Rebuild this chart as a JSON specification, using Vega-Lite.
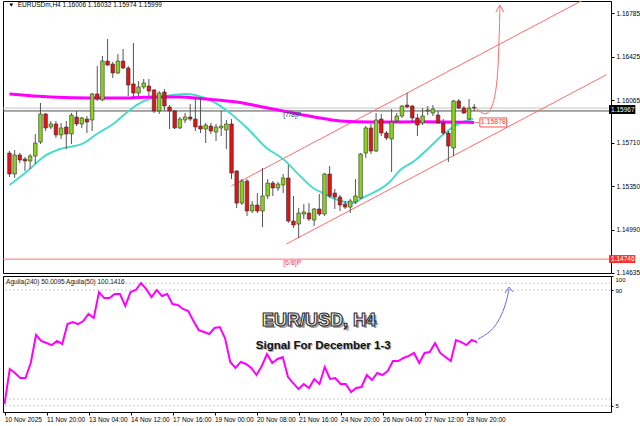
{
"$schema": "https://vega.github.io/schema/vega-lite/v6.json",
"background": "white",
"padding": 0,
"spacing": 3,
"bounds": "flush",
"config": {
  "view": {"stroke": "#000000", "strokeWidth": 1},
  "axis": {"labelFont": "Liberation Sans", "labelFontSize": 6.5, "labelColor": "#000000", "tickColor": "#000000", "domain": false, "grid": false, "tickSize": 3, "labelPadding": 2},
  "text": {"font": "Liberation Sans"}
},
"datasets": {
  "candles": [
{"i":0,"o":1.15626,"h":1.15643,"l":1.15427,"c":1.15452},
{"i":1,"o":1.15452,"h":1.15651,"l":1.15419,"c":1.1561},
{"i":2,"o":1.1561,"h":1.15626,"l":1.15543,"c":1.15568},
{"i":3,"o":1.15576,"h":1.15593,"l":1.15477,"c":1.1556},
{"i":4,"o":1.1556,"h":1.15618,"l":1.15493,"c":1.15601},
{"i":5,"o":1.15601,"h":1.15784,"l":1.15535,"c":1.15709},
{"i":6,"o":1.15717,"h":1.16041,"l":1.15701,"c":1.1595},
{"i":7,"o":1.1595,"h":1.15958,"l":1.15809,"c":1.15834},
{"i":8,"o":1.15842,"h":1.15892,"l":1.15825,"c":1.15867},
{"i":9,"o":1.15867,"h":1.15892,"l":1.15751,"c":1.15776},
{"i":10,"o":1.15776,"h":1.15875,"l":1.15742,"c":1.15834},
{"i":11,"o":1.15842,"h":1.15892,"l":1.15659,"c":1.15784},
{"i":12,"o":1.15784,"h":1.15958,"l":1.15701,"c":1.15941},
{"i":13,"o":1.15925,"h":1.15975,"l":1.1585,"c":1.15867},
{"i":14,"o":1.15867,"h":1.15925,"l":1.15834,"c":1.15917},
{"i":15,"o":1.15908,"h":1.15933,"l":1.15792,"c":1.15883},
{"i":16,"o":1.159,"h":1.16124,"l":1.15809,"c":1.16116},
{"i":17,"o":1.16116,"h":1.16348,"l":1.16058,"c":1.16074},
{"i":18,"o":1.16066,"h":1.16431,"l":1.16058,"c":1.16389},
{"i":19,"o":1.16389,"h":1.16572,"l":1.16348,"c":1.16356},
{"i":20,"o":1.16364,"h":1.16381,"l":1.16248,"c":1.1629},
{"i":21,"o":1.1629,"h":1.16447,"l":1.16281,"c":1.16389},
{"i":22,"o":1.16389,"h":1.16489,"l":1.16323,"c":1.16331},
{"i":23,"o":1.16331,"h":1.16348,"l":1.16099,"c":1.1619},
{"i":24,"o":1.16199,"h":1.16539,"l":1.16074,"c":1.16124},
{"i":25,"o":1.16124,"h":1.16223,"l":1.16099,"c":1.16174},
{"i":26,"o":1.16174,"h":1.1624,"l":1.16157,"c":1.16207},
{"i":27,"o":1.16182,"h":1.1624,"l":1.16099,"c":1.1614},
{"i":28,"o":1.16149,"h":1.16157,"l":1.15958,"c":1.15975},
{"i":29,"o":1.15975,"h":1.1614,"l":1.1595,"c":1.16124},
{"i":30,"o":1.16132,"h":1.16157,"l":1.15975,"c":1.16016},
{"i":31,"o":1.16008,"h":1.16024,"l":1.15825,"c":1.15975},
{"i":32,"o":1.15975,"h":1.15983,"l":1.15825,"c":1.15834},
{"i":33,"o":1.15834,"h":1.15925,"l":1.15825,"c":1.15908},
{"i":34,"o":1.159,"h":1.15958,"l":1.15875,"c":1.15925},
{"i":35,"o":1.15925,"h":1.16033,"l":1.15892,"c":1.15908},
{"i":36,"o":1.15908,"h":1.16091,"l":1.15809,"c":1.15842},
{"i":37,"o":1.1585,"h":1.16091,"l":1.15792,"c":1.15825},
{"i":38,"o":1.15825,"h":1.15875,"l":1.15709,"c":1.15858},
{"i":39,"o":1.1585,"h":1.15875,"l":1.15784,"c":1.15809},
{"i":40,"o":1.158,"h":1.15867,"l":1.15726,"c":1.15842},
{"i":41,"o":1.15834,"h":1.15975,"l":1.15767,"c":1.1585},
{"i":42,"o":1.15817,"h":1.159,"l":1.15659,"c":1.15867},
{"i":43,"o":1.15867,"h":1.15908,"l":1.1541,"c":1.1546},
{"i":44,"o":1.15477,"h":1.15485,"l":1.1517,"c":1.15211},
{"i":45,"o":1.15211,"h":1.1541,"l":1.15195,"c":1.15394},
{"i":46,"o":1.15394,"h":1.1541,"l":1.15104,"c":1.15145},
{"i":47,"o":1.15145,"h":1.15228,"l":1.15128,"c":1.15195},
{"i":48,"o":1.15195,"h":1.15294,"l":1.15128,"c":1.15145},
{"i":49,"o":1.15145,"h":1.15502,"l":1.15012,"c":1.1527},
{"i":50,"o":1.1527,"h":1.1541,"l":1.15245,"c":1.15377},
{"i":51,"o":1.15377,"h":1.15394,"l":1.1527,"c":1.15336},
{"i":52,"o":1.15336,"h":1.15386,"l":1.15311,"c":1.15369},
{"i":53,"o":1.15361,"h":1.15452,"l":1.15294,"c":1.15419},
{"i":54,"o":1.15419,"h":1.15527,"l":1.15046,"c":1.15062},
{"i":55,"o":1.15062,"h":1.1527,"l":1.15004,"c":1.15029},
{"i":56,"o":1.15037,"h":1.1517,"l":1.14921,"c":1.15128},
{"i":57,"o":1.1512,"h":1.15203,"l":1.15079,"c":1.15137},
{"i":58,"o":1.15128,"h":1.15211,"l":1.15062,"c":1.15079},
{"i":59,"o":1.1507,"h":1.1517,"l":1.15021,"c":1.15162},
{"i":60,"o":1.15162,"h":1.15286,"l":1.15104,"c":1.1512},
{"i":61,"o":1.1512,"h":1.1546,"l":1.15104,"c":1.15452},
{"i":62,"o":1.15452,"h":1.15518,"l":1.15253,"c":1.1527},
{"i":63,"o":1.15294,"h":1.15328,"l":1.15162,"c":1.15261},
{"i":64,"o":1.15261,"h":1.15278,"l":1.15145,"c":1.15195},
{"i":65,"o":1.15203,"h":1.15228,"l":1.15162,"c":1.15178},
{"i":66,"o":1.15178,"h":1.15245,"l":1.15128,"c":1.15228},
{"i":67,"o":1.1522,"h":1.1541,"l":1.15203,"c":1.1527},
{"i":68,"o":1.15253,"h":1.15626,"l":1.15245,"c":1.15618},
{"i":69,"o":1.15626,"h":1.1585,"l":1.15585,"c":1.15834},
{"i":70,"o":1.15834,"h":1.15867,"l":1.15618,"c":1.15643},
{"i":71,"o":1.15643,"h":1.15958,"l":1.15635,"c":1.159},
{"i":72,"o":1.15908,"h":1.1595,"l":1.15767,"c":1.15792},
{"i":73,"o":1.15792,"h":1.15809,"l":1.15734,"c":1.15751},
{"i":74,"o":1.15742,"h":1.15991,"l":1.15469,"c":1.15883},
{"i":75,"o":1.15892,"h":1.15958,"l":1.15875,"c":1.15933},
{"i":76,"o":1.15933,"h":1.16024,"l":1.15917,"c":1.16016},
{"i":77,"o":1.16024,"h":1.16124,"l":1.15999,"c":1.16008},
{"i":78,"o":1.16016,"h":1.16024,"l":1.15875,"c":1.15917},
{"i":79,"o":1.15917,"h":1.1595,"l":1.15767,"c":1.15858},
{"i":80,"o":1.15875,"h":1.15999,"l":1.15858,"c":1.15933},
{"i":81,"o":1.15975,"h":1.16016,"l":1.15941,"c":1.15983},
{"i":82,"o":1.15958,"h":1.16024,"l":1.15933,"c":1.15991},
{"i":83,"o":1.15941,"h":1.15975,"l":1.15867,"c":1.15875},
{"i":84,"o":1.15875,"h":1.15908,"l":1.15776,"c":1.15792},
{"i":85,"o":1.15792,"h":1.15809,"l":1.15552,"c":1.15684},
{"i":86,"o":1.15668,"h":1.16066,"l":1.15601,"c":1.16058},
{"i":87,"o":1.16058,"h":1.16074,"l":1.15991,"c":1.15999},
{"i":88,"o":1.15999,"h":1.16016,"l":1.1595,"c":1.15958},
{"i":89,"o":1.15908,"h":1.16074,"l":1.159,"c":1.15999},
{"i":90,"o":1.16006,"h":1.16032,"l":1.15974,"c":1.15999}
  ],
  "ma240": [
{"i":0,"p":1.16116},{"i":8,"p":1.16091},{"i":16,"p":1.16082},{"i":22,"p":1.16082},{"i":28,"p":1.16091},{"i":33,"p":1.16091},{"i":38,"p":1.16074},{"i":44,"p":1.16049},{"i":49,"p":1.16008},{"i":54,"p":1.15966},{"i":59,"p":1.15925},{"i":64,"p":1.15892},{"i":70,"p":1.15883},{"i":80,"p":1.15885},{"i":90,"p":1.1588}
  ],
  "ma50": [
{"i":0,"p":1.15361},{"i":3.5,"p":1.15477},{"i":6.8,"p":1.15601},{"i":9.8,"p":1.15659},{"i":14.4,"p":1.15709},{"i":16.9,"p":1.15784},{"i":20.1,"p":1.15867},{"i":22.6,"p":1.15958},{"i":25,"p":1.16033},{"i":27.7,"p":1.16082},{"i":30.2,"p":1.16099},{"i":34,"p":1.16116},{"i":38.4,"p":1.16074},{"i":42.2,"p":1.15975},{"i":46,"p":1.15834},{"i":49.8,"p":1.15668},{"i":53,"p":1.15576},{"i":56.3,"p":1.15435},{"i":58.8,"p":1.15336},{"i":60.7,"p":1.15294},{"i":63.1,"p":1.15245},{"i":66.4,"p":1.15211},{"i":68.3,"p":1.15253},{"i":73.4,"p":1.15377},{"i":75.9,"p":1.15493},{"i":78.4,"p":1.1556},{"i":81,"p":1.15659},{"i":84.1,"p":1.15784},{"i":87.3,"p":1.15875},{"i":89.8,"p":1.15908}
  ],
  "channel": [
{"s":"upper","i":42.95,"p":1.15352},{"s":"upper","i":115.6,"p":1.16998},
{"s":"lower","i":53.6,"p":1.14871},{"s":"lower","i":115.6,"p":1.16275},
{"s":"tail","i":90.2,"p":1.1588},{"s":"tail","i":91.1,"p":1.1588}
  ],
  "osc": [
{"i":0,"v":6.3},{"i":1,"v":32.0},{"i":2,"v":29.1},{"i":3,"v":25.4},{"i":4,"v":25.4},{"i":5,"v":36.4},{"i":6,"v":57.0},{"i":7,"v":52.6},{"i":8,"v":51.1},{"i":9,"v":49.6},
{"i":10,"v":52.6},{"i":11,"v":50.4},{"i":12,"v":65.0},{"i":13,"v":66.5},{"i":14,"v":65.0},{"i":15,"v":67.2},{"i":16,"v":72.4},{"i":17,"v":69.4},{"i":18,"v":88.5},{"i":19,"v":84.1},
{"i":20,"v":84.1},{"i":21,"v":87.1},{"i":22,"v":87.1},{"i":23,"v":78.3},{"i":24,"v":88.5},{"i":25,"v":90.0},{"i":26,"v":95.1},{"i":27,"v":90.7},{"i":28,"v":84.9},{"i":29,"v":90.0},
{"i":30,"v":85.6},{"i":31,"v":87.1},{"i":32,"v":79.7},{"i":33,"v":79.0},{"i":34,"v":76.1},{"i":35,"v":74.6},{"i":36,"v":67.2},{"i":37,"v":60.6},{"i":38,"v":59.2},{"i":39,"v":57.7},
{"i":40,"v":62.1},{"i":41,"v":62.8},{"i":42,"v":54.8},{"i":43,"v":37.2},{"i":44,"v":32.8},{"i":45,"v":37.2},{"i":46,"v":35.7},{"i":47,"v":32.8},{"i":48,"v":27.6},{"i":49,"v":34.2},
{"i":50,"v":43.0},{"i":51,"v":36.4},{"i":52,"v":39.4},{"i":53,"v":40.8},{"i":54,"v":26.1},{"i":55,"v":21.7},{"i":56,"v":17.3},{"i":57,"v":21.0},{"i":58,"v":18.1},{"i":59,"v":24.7},
{"i":60,"v":21.0},{"i":61,"v":33.5},{"i":62,"v":24.7},{"i":63,"v":25.4},{"i":64,"v":21.0},{"i":65,"v":21.0},{"i":66,"v":15.1},{"i":67,"v":18.1},{"i":68,"v":18.8},{"i":69,"v":27.6},
{"i":70,"v":23.9},{"i":71,"v":29.1},{"i":72,"v":27.6},{"i":73,"v":30.6},{"i":74,"v":37.9},{"i":75,"v":37.9},{"i":76,"v":40.1},{"i":77,"v":41.6},{"i":78,"v":43.8},{"i":79,"v":36.4},
{"i":80,"v":43.8},{"i":81,"v":44.5},{"i":82,"v":51.1},{"i":83,"v":43.8},{"i":84,"v":40.8},{"i":85,"v":37.9},{"i":86,"v":53.3},{"i":87,"v":51.8},{"i":88,"v":49.6},{"i":89,"v":53.3},{"i":90,"v":51.8}
  ]
},
"vconcat": [
{
  "width": 608,
  "height": 272,
  "layer": [
    {"data": {"values": [{"p": 1.15999}]}, "mark": {"type": "rule", "stroke": "#c4c4c4", "strokeWidth": 1},
     "encoding": {"y": {"field": "p", "type": "quantitative", "title": null, "scale": {"domain": [1.14631, 1.16887], "nice": false, "zero": false},
       "axis": {"orient": "right", "values": [1.16785,1.16605,1.16425,1.16245,1.16065,1.1589,1.1571,1.1553,1.1535,1.1517,1.1499,1.14815,1.14635], "format": ".5f", "labelOverlap": false, "labelFlush": false, "title": null}}}},
    {"data": {"values": [{"p": 1.15975}]}, "mark": {"type": "rule", "stroke": "#505050", "strokeWidth": 1},
     "encoding": {"y": {"field": "p", "type": "quantitative", "title": null, "scale": {"domain": [1.14631, 1.16887], "nice": false, "zero": false}}}},
    {"data": {"values": [{"p": 1.14746}]}, "mark": {"type": "rule", "stroke": "#ff7070", "strokeWidth": 1},
     "encoding": {"y": {"field": "p", "type": "quantitative", "title": null, "scale": {"domain": [1.14631, 1.16887], "nice": false, "zero": false}}}},
    {"data": {"name": "channel"}, "mark": {"type": "line", "stroke": "#ff6b6b", "strokeWidth": 1, "clip": true},
     "encoding": {"x": {"field": "i", "type": "quantitative", "title": null, "scale": {"domain": [-0.286, 115.52], "nice": false, "zero": false}, "axis": null},
       "y": {"field": "p", "type": "quantitative", "title": null, "scale": {"domain": [1.14631, 1.16887], "nice": false, "zero": false}},
       "detail": {"field": "s", "type": "nominal"}}},
    {"data": {"name": "ma50"}, "mark": {"type": "line", "stroke": "#48dccb", "strokeWidth": 2, "interpolate": "monotone"},
     "encoding": {"x": {"field": "i", "type": "quantitative", "title": null, "scale": {"domain": [-0.286, 115.52], "nice": false, "zero": false}},
       "y": {"field": "p", "type": "quantitative", "title": null, "scale": {"domain": [1.14631, 1.16887], "nice": false, "zero": false}}}},
    {"data": {"name": "ma240"}, "mark": {"type": "line", "stroke": "#ff00ff", "strokeWidth": 3, "interpolate": "monotone"},
     "encoding": {"x": {"field": "i", "type": "quantitative", "title": null, "scale": {"domain": [-0.286, 115.52], "nice": false, "zero": false}},
       "y": {"field": "p", "type": "quantitative", "title": null, "scale": {"domain": [1.14631, 1.16887], "nice": false, "zero": false}}}},
    {"data": {"name": "candles"}, "mark": {"type": "rule", "stroke": "#555555", "strokeWidth": 1},
     "encoding": {"x": {"field": "i", "type": "quantitative", "title": null, "scale": {"domain": [-0.286, 115.52], "nice": false, "zero": false}},
       "y": {"field": "l", "type": "quantitative", "title": null, "scale": {"domain": [1.14631, 1.16887], "nice": false, "zero": false}},
       "y2": {"field": "h"}}},
    {"data": {"name": "candles"}, "mark": {"type": "bar", "orient": "vertical", "size": 3.6, "stroke": "#333333", "strokeWidth": 0.6},
     "encoding": {"x": {"field": "i", "type": "quantitative", "title": null, "scale": {"domain": [-0.286, 115.52], "nice": false, "zero": false}},
       "y": {"field": "o", "type": "quantitative", "title": null, "scale": {"domain": [1.14631, 1.16887], "nice": false, "zero": false}},
       "y2": {"field": "c"},
       "fill": {"condition": {"test": "datum.c >= datum.o", "value": "#8ad21e"}, "value": "#e01414"}}},
    {"data": {"values": [{"i":90.2,"p":1.16008},{"i":91.14,"p":1.15966},{"i":92.3,"p":1.15941},{"i":93.24,"p":1.15983},{"i":94.0,"p":1.16082},{"i":94.57,"p":1.16265},{"i":94.76,"p":1.16514},{"i":94.93,"p":1.16721},{"i":94.97,"p":1.16845}]},
     "mark": {"type": "line", "stroke": "#ff6b6b", "strokeWidth": 1, "interpolate": "basis"},
     "encoding": {"x": {"field": "i", "type": "quantitative", "title": null, "scale": {"domain": [-0.286, 115.52], "nice": false, "zero": false}},
       "y": {"field": "p", "type": "quantitative", "title": null, "scale": {"domain": [1.14631, 1.16887], "nice": false, "zero": false}}, "order": {"field": "i"}}},
    {"data": {"values": [{"k":1,"i":94.19,"p":1.16796},{"k":2,"i":94.97,"p":1.16854},{"k":3,"i":95.71,"p":1.16796}]},
     "mark": {"type": "line", "stroke": "#ff6b6b", "strokeWidth": 1},
     "encoding": {"x": {"field": "i", "type": "quantitative", "title": null, "scale": {"domain": [-0.286, 115.52], "nice": false, "zero": false}},
       "y": {"field": "p", "type": "quantitative", "title": null, "scale": {"domain": [1.14631, 1.16887], "nice": false, "zero": false}}, "order": {"field": "k"}}},
    {"data": {"values": [{"i":91.1,"i2":96.3,"p":1.15842,"p2":1.15917}]},
     "mark": {"type": "rect", "fill": "#ffffff", "stroke": "#ff5050", "strokeWidth": 1},
     "encoding": {"x": {"field": "i", "type": "quantitative", "title": null, "scale": {"domain": [-0.286, 115.52], "nice": false, "zero": false}}, "x2": {"field": "i2"},
       "y": {"field": "p", "type": "quantitative", "title": null, "scale": {"domain": [1.14631, 1.16887], "nice": false, "zero": false}}, "y2": {"field": "p2"}}},
    {"data": {"values": [{"i":93.7,"p":1.1588,"t":"1.15878"}]},
     "mark": {"type": "text", "fontSize": 7, "color": "#ff3030", "align": "center", "baseline": "middle"},
     "encoding": {"x": {"field": "i", "type": "quantitative", "title": null, "scale": {"domain": [-0.286, 115.52], "nice": false, "zero": false}},
       "y": {"field": "p", "type": "quantitative", "title": null, "scale": {"domain": [1.14631, 1.16887], "nice": false, "zero": false}}, "text": {"field": "t"}}},
    {"data": {"values": [{"i":53.0,"p":1.15941,"t":"[7/8]P"}]},
     "mark": {"type": "text", "fontSize": 7, "color": "#444444", "align": "left", "baseline": "middle"},
     "encoding": {"x": {"field": "i", "type": "quantitative", "title": null, "scale": {"domain": [-0.286, 115.52], "nice": false, "zero": false}},
       "y": {"field": "p", "type": "quantitative", "title": null, "scale": {"domain": [1.14631, 1.16887], "nice": false, "zero": false}}, "text": {"field": "t"}}},
    {"data": {"values": [{"i":53.0,"p":1.14714,"t":"[6/8]P"}]},
     "mark": {"type": "text", "fontSize": 7, "color": "#ff4040", "align": "left", "baseline": "middle"},
     "encoding": {"x": {"field": "i", "type": "quantitative", "title": null, "scale": {"domain": [-0.286, 115.52], "nice": false, "zero": false}},
       "y": {"field": "p", "type": "quantitative", "title": null, "scale": {"domain": [1.14631, 1.16887], "nice": false, "zero": false}}, "text": {"field": "t"}}},
    {"data": {"values": [{"i":1.6,"p":1.1685,"t":"EURUSDm,H4  1.16006 1.16032 1.15974 1.15999"}]},
     "mark": {"type": "text", "fontSize": 6.5, "color": "#000000", "align": "left", "baseline": "middle"},
     "encoding": {"x": {"field": "i", "type": "quantitative", "title": null, "scale": {"domain": [-0.286, 115.52], "nice": false, "zero": false}},
       "y": {"field": "p", "type": "quantitative", "title": null, "scale": {"domain": [1.14631, 1.16887], "nice": false, "zero": false}}, "text": {"field": "t"}}},
    {"data": {"values": [{"i":0.35,"p":1.16852}]},
     "mark": {"type": "point", "shape": "triangle-down", "size": 14, "filled": true, "color": "#000000", "opacity": 1},
     "encoding": {"x": {"field": "i", "type": "quantitative", "title": null, "scale": {"domain": [-0.286, 115.52], "nice": false, "zero": false}},
       "y": {"field": "p", "type": "quantitative", "title": null, "scale": {"domain": [1.14631, 1.16887], "nice": false, "zero": false}}}},
    {"data": {"values": [{"t":"1.15967","i":116.1,"i2":121.2,"p":1.1595,"p2":1.16024},{"t":"1.14746","i":116.1,"i2":121.2,"p":1.14714,"p2":1.1478}]},
     "mark": {"type": "rect", "strokeWidth": 0},
     "encoding": {"x": {"field": "i", "type": "quantitative", "title": null, "scale": {"domain": [-0.286, 115.52], "nice": false, "zero": false}}, "x2": {"field": "i2"},
       "y": {"field": "p", "type": "quantitative", "title": null, "scale": {"domain": [1.14631, 1.16887], "nice": false, "zero": false}}, "y2": {"field": "p2"},
       "fill": {"condition": {"test": "datum.t == '1.14746'", "value": "#ff3030"}, "value": "#000000"}}},
    {"data": {"values": [{"t":"1.15967","i":116.5,"p":1.15987},{"t":"1.14746","i":116.5,"p":1.14747}]},
     "mark": {"type": "text", "fontSize": 6.5, "color": "#ffffff", "align": "left", "baseline": "middle"},
     "encoding": {"x": {"field": "i", "type": "quantitative", "title": null, "scale": {"domain": [-0.286, 115.52], "nice": false, "zero": false}},
       "y": {"field": "p", "type": "quantitative", "title": null, "scale": {"domain": [1.14631, 1.16887], "nice": false, "zero": false}}, "text": {"field": "t"}}}
  ]
},
{
  "width": 608,
  "height": 136,
  "layer": [
    {"data": {"values": [{"v":95},{"v":90},{"v":10},{"v":5}]}, "mark": {"type": "rule", "stroke": "#c8c8c8", "strokeWidth": 1, "strokeDash": [2, 2]},
     "encoding": {"y": {"field": "v", "type": "quantitative", "title": null, "scale": {"domain": [0.46, 100.3], "nice": false, "zero": false},
       "axis": {"orient": "right", "values": [100, 95, 90, 10, 5, 0], "labelFontSize": 6, "labelOverlap": false, "labelFlush": true, "tickSize": 2, "title": null}}}},
    {"data": {"name": "osc"}, "mark": {"type": "line", "stroke": "#ff00ff", "strokeWidth": 2},
     "encoding": {"x": {"field": "i", "type": "quantitative", "title": null, "scale": {"domain": [-0.286, 115.52], "nice": false, "zero": false},
       "axis": {"orient": "bottom", "values": [0,8,16,24,32,40,48,56,64,72,80,88], "labelAlign": "left", "labelBaseline": "top", "labelPadding": 1, "labelFlush": false, "labelOverlap": false, "title": null,
         "labelExpr": "['10 Nov 2025','11 Nov 20:00','13 Nov 04:00','14 Nov 12:00','17 Nov 16:00','19 Nov 00:00','20 Nov 08:00','21 Nov 16:00','24 Nov 20:00','26 Nov 04:00','27 Nov 12:00','28 Nov 20:00'][datum.value / 8]"}},
       "y": {"field": "v", "type": "quantitative", "title": null, "scale": {"domain": [0.46, 100.3], "nice": false, "zero": false}}}},
    {"data": {"values": [{"i":90.19,"v":54.0},{"i":92.67,"v":59.2},{"i":94.38,"v":68.7},{"i":95.52,"v":79.7},{"i":96.1,"v":90.7}]},
     "mark": {"type": "line", "stroke": "#6a6ae0", "strokeWidth": 1, "interpolate": "basis"},
     "encoding": {"x": {"field": "i", "type": "quantitative", "title": null, "scale": {"domain": [-0.286, 115.52], "nice": false, "zero": false}},
       "y": {"field": "v", "type": "quantitative", "title": null, "scale": {"domain": [0.46, 100.3], "nice": false, "zero": false}}}},
    {"data": {"values": [{"k":1,"i":95.33,"v":87.8},{"k":2,"i":96.1,"v":92.2},{"k":3,"i":96.86,"v":88.5}]},
     "mark": {"type": "line", "stroke": "#6a6ae0", "strokeWidth": 1},
     "encoding": {"x": {"field": "i", "type": "quantitative", "title": null, "scale": {"domain": [-0.286, 115.52], "nice": false, "zero": false}},
       "y": {"field": "v", "type": "quantitative", "title": null, "scale": {"domain": [0.46, 100.3], "nice": false, "zero": false}}, "order": {"field": "k"}}},
    {"data": {"values": [{"i":0.3,"v":95.9,"t":"Aguila(240) 50.0095  Aguila(50) 100.1416"}]},
     "mark": {"type": "text", "fontSize": 6.5, "color": "#222222", "align": "left", "baseline": "middle"},
     "encoding": {"x": {"field": "i", "type": "quantitative", "title": null, "scale": {"domain": [-0.286, 115.52], "nice": false, "zero": false}},
       "y": {"field": "v", "type": "quantitative", "title": null, "scale": {"domain": [0.46, 100.3], "nice": false, "zero": false}}, "text": {"field": "t"}}},
    {"data": {"values": [{"i":59.9,"v":67.2,"t":"EUR/USD, H4"}]},
     "mark": {"type": "text", "fontSize": 18, "fontWeight": "bold", "color": "#777777", "opacity": 0.7, "align": "center", "baseline": "middle", "dx": 2, "dy": 2},
     "encoding": {"x": {"field": "i", "type": "quantitative", "title": null, "scale": {"domain": [-0.286, 115.52], "nice": false, "zero": false}},
       "y": {"field": "v", "type": "quantitative", "title": null, "scale": {"domain": [0.46, 100.3], "nice": false, "zero": false}}, "text": {"field": "t"}}},
    {"data": {"values": [{"i":59.9,"v":67.2,"t":"EUR/USD, H4"}]},
     "mark": {"type": "text", "fontSize": 18, "fontWeight": "bold", "fill": "#fafafa", "stroke": "#2a2a2a", "strokeWidth": 1.1, "align": "center", "baseline": "middle"},
     "encoding": {"x": {"field": "i", "type": "quantitative", "title": null, "scale": {"domain": [-0.286, 115.52], "nice": false, "zero": false}},
       "y": {"field": "v", "type": "quantitative", "title": null, "scale": {"domain": [0.46, 100.3], "nice": false, "zero": false}}, "text": {"field": "t"}}},
    {"data": {"values": [{"i":60.7,"v":48.9,"t":"Signal For December 1-3"}]},
     "mark": {"type": "text", "fontSize": 11.5, "fontWeight": "bold", "color": "#aaaaaa", "align": "center", "baseline": "middle", "dx": 1, "dy": 1},
     "encoding": {"x": {"field": "i", "type": "quantitative", "title": null, "scale": {"domain": [-0.286, 115.52], "nice": false, "zero": false}},
       "y": {"field": "v", "type": "quantitative", "title": null, "scale": {"domain": [0.46, 100.3], "nice": false, "zero": false}}, "text": {"field": "t"}}},
    {"data": {"values": [{"i":60.7,"v":48.9,"t":"Signal For December 1-3"}]},
     "mark": {"type": "text", "fontSize": 11.5, "fontWeight": "bold", "color": "#111111", "align": "center", "baseline": "middle"},
     "encoding": {"x": {"field": "i", "type": "quantitative", "title": null, "scale": {"domain": [-0.286, 115.52], "nice": false, "zero": false}},
       "y": {"field": "v", "type": "quantitative", "title": null, "scale": {"domain": [0.46, 100.3], "nice": false, "zero": false}}, "text": {"field": "t"}}}
  ]
}
]
}
